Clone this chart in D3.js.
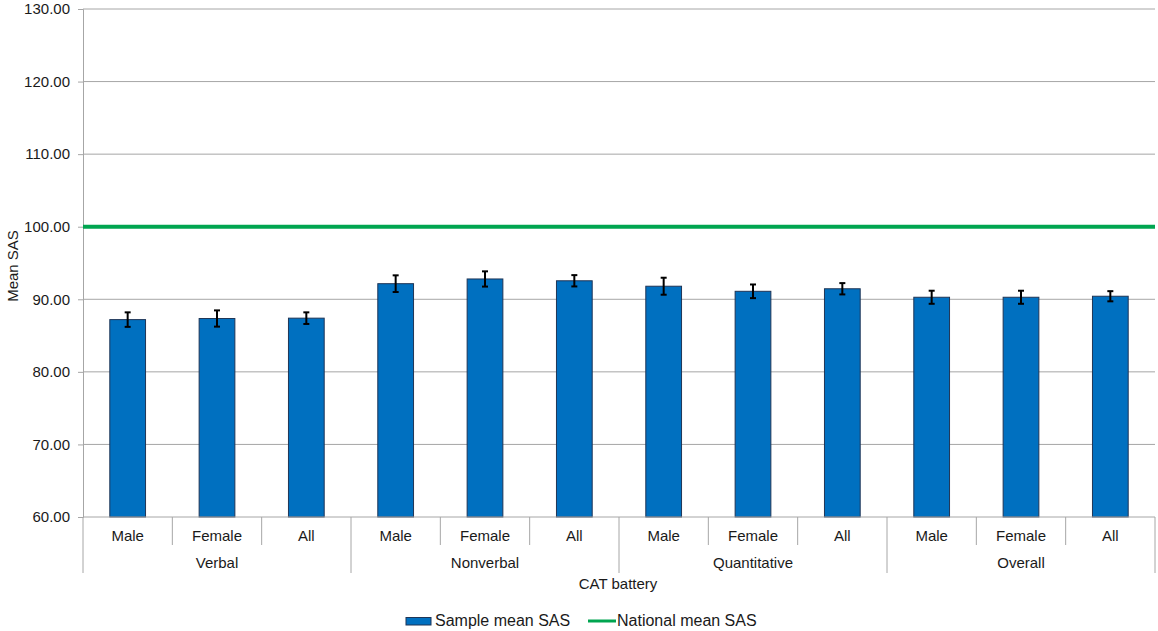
<!DOCTYPE html>
<html lang="en">
<head>
<meta charset="utf-8">
<title>Mean SAS by CAT battery</title>
<script src="https://d3js.org/d3.v7.min.js"></script>
<style>
  body { margin: 0; background: #fff; }
  svg { display: block; font-family: "Liberation Sans", Arial, sans-serif; }
  .lbl { font-size: 15px; fill: #1a1a1a; }
  .leg { font-size: 16px; fill: #1a1a1a; }
</style>
</head>
<body>
<svg width="1158" height="631"></svg>
<script>
// data
const groups = ["Verbal", "Nonverbal", "Quantitative", "Overall"];
const subs = ["Male", "Female", "All"];
const means = [87.2, 87.35, 87.4, 92.15, 92.8, 92.55, 91.8, 91.1, 91.45, 90.28, 90.28, 90.42];
const errs = [1.0, 1.12, 0.8, 1.15, 1.05, 0.78, 1.17, 0.94, 0.78, 0.9, 0.9, 0.7];
const nationalMean = 100;
const yTicks = [60, 70, 80, 90, 100, 110, 120, 130];

const svg = d3.select("svg");
const plotL = 83, plotR = 1155, plotT = 9, plotB = 517;

const cats = [];
groups.forEach(g => subs.forEach(s => cats.push(g + "|" + s)));
const rows = cats.map((c, i) => ({ key: c, group: c.split("|")[0], sub: c.split("|")[1], mean: means[i], err: errs[i] }));

const x = d3.scaleBand().domain(cats).range([plotL, plotR]).paddingInner(0.6).paddingOuter(0.3);
const xc = d3.scaleBand().domain(cats).range([plotL, plotR]);
const y = d3.scaleLinear().domain([60, 130]).range([plotB, plotT]);

// gridlines
svg.append("g").selectAll("line")
  .data(yTicks.slice(1))
  .join("line")
  .attr("x1", plotL).attr("x2", plotR)
  .attr("y1", d => y(d)).attr("y2", d => y(d))
  .attr("stroke", "#a6a6a6").attr("stroke-width", 1);

// y axis
const yAxis = svg.append("g")
  .attr("transform", "translate(" + plotL + ",0)")
  .call(d3.axisLeft(y).tickValues(yTicks).tickFormat(d3.format(".2f")).tickSize(5).tickPadding(8));
yAxis.select(".domain").attr("stroke", "#a6a6a6");
yAxis.selectAll(".tick line").attr("stroke", "#a6a6a6");
yAxis.attr("font-size", null).attr("font-family", null);
yAxis.selectAll("text").attr("class", "lbl");

// bars
svg.append("g").selectAll("rect")
  .data(rows)
  .join("rect")
  .attr("x", d => x(d.key))
  .attr("y", d => y(d.mean))
  .attr("width", x.bandwidth())
  .attr("height", d => y(60) - y(d.mean))
  .attr("fill", "#0070c0")
  .attr("stroke", "#1f3556")
  .attr("stroke-width", 1);

// error bars
const eb = svg.append("g").attr("stroke", "#000").attr("stroke-width", 2);
rows.forEach(d => {
  const cx = x(d.key) + x.bandwidth() / 2;
  eb.append("line").attr("x1", cx).attr("x2", cx).attr("y1", y(d.mean - d.err)).attr("y2", y(d.mean + d.err));
  eb.append("line").attr("x1", cx - 3).attr("x2", cx + 3).attr("y1", y(d.mean - d.err)).attr("y2", y(d.mean - d.err));
  eb.append("line").attr("x1", cx - 3).attr("x2", cx + 3).attr("y1", y(d.mean + d.err)).attr("y2", y(d.mean + d.err));
});

// national mean line
svg.append("line")
  .attr("x1", plotL).attr("x2", plotR)
  .attr("y1", y(nationalMean)).attr("y2", y(nationalMean))
  .attr("stroke", "#00a550").attr("stroke-width", 4);

// x axis (two level)
const xg = svg.append("g").attr("stroke", "#a6a6a6").attr("stroke-width", 1);
xg.append("line").attr("x1", plotL).attr("x2", plotR).attr("y1", plotB).attr("y2", plotB);
cats.forEach((c, i) => {
  const xx = xc(c);
  const isGroupStart = i % subs.length === 0;
  xg.append("line").attr("x1", xx).attr("x2", xx).attr("y1", plotB).attr("y2", isGroupStart ? 573 : 545);
});
xg.append("line").attr("x1", plotR).attr("x2", plotR).attr("y1", plotB).attr("y2", 573);

svg.append("g").selectAll("text")
  .data(rows)
  .join("text")
  .attr("class", "lbl")
  .attr("x", d => xc(d.key) + xc.bandwidth() / 2)
  .attr("y", 541)
  .attr("text-anchor", "middle")
  .text(d => d.sub);

svg.append("g").selectAll("text")
  .data(groups)
  .join("text")
  .attr("class", "lbl")
  .attr("x", g => xc(g + "|" + subs[0]) + xc.bandwidth() * subs.length / 2)
  .attr("y", 568)
  .attr("text-anchor", "middle")
  .text(g => g);

// axis titles
svg.append("text").attr("class", "lbl")
  .attr("x", 618).attr("y", 589).attr("text-anchor", "middle")
  .text("CAT battery");
svg.append("text").attr("class", "lbl")
  .attr("transform", "translate(18,266) rotate(-90)")
  .attr("text-anchor", "middle")
  .text("Mean SAS");

// legend
const lg = svg.append("g");
lg.append("rect").attr("x", 406).attr("y", 617.5).attr("width", 25).attr("height", 7.5)
  .attr("fill", "#0070c0").attr("stroke", "#1f3556");
lg.append("text").attr("class", "leg").attr("x", 435).attr("y", 626).text("Sample mean SAS");
lg.append("line").attr("x1", 588).attr("x2", 616).attr("y1", 621).attr("y2", 621)
  .attr("stroke", "#00a550").attr("stroke-width", 3);
lg.append("text").attr("class", "leg").attr("x", 617).attr("y", 626).text("National mean SAS");
</script>
</body>
</html>
